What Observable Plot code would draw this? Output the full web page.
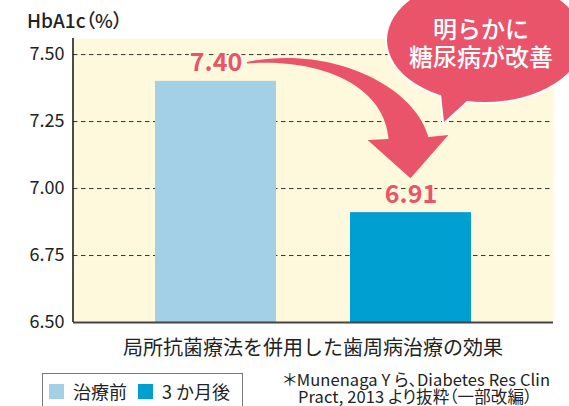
<!DOCTYPE html>
<html>
<head>
<meta charset="utf-8">
<script src="https://cdn.jsdelivr.net/npm/d3@7"></script>
<script src="https://cdn.jsdelivr.net/npm/@observablehq/plot@0.6"></script>
<style>
  html, body { margin: 0; padding: 0; background: #fff; }
  #wrap { position: relative; width: 569px; height: 406px; overflow: hidden;
          font-family: "Noto Sans CJK JP", "Noto Sans", sans-serif; color: #222; }
  #chart { position: absolute; left: 0; top: 0; }
  .abs { position: absolute; white-space: nowrap; }
  #title { left: 27px; top: 6px; font-size: 19px; font-weight: 500; font-feature-settings: "palt"; }
  #xlabel { left: 73px; width: 480px; top: 332px; text-align: center; font-size: 20px; }
  #legend { left: 42px; top: 373px; width: 201px; height: 40px; border: 1.5px solid #777; box-sizing: border-box;
            display: flex; align-items: flex-start; padding: 6px 0 0 6px; font-size: 18px; line-height: 22px; }
  #legend .item { display: flex; align-items: center; margin-right: 11px; }
  #legend .sw { width: 15px; height: 15px; margin-right: 9px; }
  #source { left: 283px; top: 371px; font-size: 16.5px; line-height: 17px; font-feature-settings: "palt"; letter-spacing: 0.1px; }
  #source div + div { padding-left: 15px; }
</style>
</head>
<body>
<div id="wrap">
  <div id="chart"></div>
  <div id="title" class="abs">HbA1c（%）</div>
  <div id="xlabel" class="abs">局所抗菌療法を併用した歯周病治療の効果</div>
  <div id="legend" class="abs"></div>
  <div id="source" class="abs"><div>＊Munenaga Y ら、Diabetes Res Clin</div><div>Pract, 2013 より抜粋（一部改編）</div></div>
</div>
<script>
const categories = ["治療前", "3 か月後"];
const values = [7.40, 6.91];
const barColors = ["#a3cfe7", "#009fd2"];
const yTicks = [6.50, 6.75, 7.00, 7.25, 7.50];
const yMax = 7.56;
const calloutLines = ["明らかに", "糖尿病が改善"];

const accent = "#e9546b";
const bg = "#fef9dc";
const data = categories.map((c, i) => ({cat: c, value: values[i], color: barColors[i]}));
const yMin = yTicks[0];

const plot = Plot.plot({
  width: 569,
  height: 365,
  marginLeft: 73,
  marginRight: 16,
  marginTop: 38,
  marginBottom: 43,
  style: {fontFamily: '"Noto Sans CJK JP", "Noto Sans", sans-serif', fontSize: "18px", color: "#222", background: "transparent"},
  x: {domain: categories, paddingInner: 0.379, paddingOuter: 0.42, axis: null},
  y: {domain: [yMin, yMax], ticks: yTicks, tickFormat: d => d.toFixed(2), tickSize: 0, tickPadding: 9, label: null},
  marks: [
    Plot.frame({fill: bg, stroke: "none"}),
    Plot.ruleY(yTicks.slice(1), {stroke: "#333", strokeWidth: 1, strokeDasharray: "4.5,3.5"}),
    Plot.barY(data, {x: "cat", y1: yMin, y2: "value", fill: "color"}),
    Plot.ruleY([yMin], {stroke: "#444", strokeWidth: 2}),
    Plot.text(data, {x: "cat", y: "value", text: d => d.value.toFixed(2), dy: -10, fill: accent,
      fontSize: 25, fontWeight: "bold", stroke: bg, strokeWidth: 4, lineAnchor: "bottom"})
  ]
});
document.getElementById("chart").appendChild(plot);

const xs = plot.scale("x");
const ys = plot.scale("y");
const bw = xs.bandwidth;
const svg = d3.select(plot);

// left axis line
svg.append("line").attr("x1", 73).attr("x2", 73).attr("y1", ys.apply(yMax)).attr("y2", ys.apply(yMin))
  .attr("stroke", "#111").attr("stroke-width", 1.5);

// curved arrow from first label to second label
const S = {x: xs.apply(categories[0]) + bw / 2 + 31.5, y: ys.apply(values[0]) - 19};
const T = {x: xs.apply(categories[1]) + bw / 2, y: ys.apply(values[1]) - 34};
const kx = (T.x - S.x) / 164, ky = (T.y - S.y) / 116;
const P = (x, y) => `${(S.x + (x - 247) * kx).toFixed(1)},${(S.y + (y - 62) * ky).toFixed(1)}`;
const arrowD = `M${P(247,62)} C${P(330,45)} ${P(415,85)} ${P(429,137)} L${P(449,135)} L${P(411,178)} L${P(368,140)} L${P(389,139)} C${P(385,85)} ${P(320,58)} ${P(247,63.5)} Z`;
svg.append("path").attr("d", arrowD).attr("fill", accent);

// speech bubble
const g = svg.append("g");
const tail = "M441,94 L444,122 L469,99 Z";
g.append("ellipse").attr("cx", 485).attr("cy", 40).attr("rx", 98).attr("ry", 62)
  .attr("fill", "#fff").attr("stroke", "#fff").attr("stroke-width", 4);
g.append("path").attr("d", tail).attr("fill", "#fff").attr("stroke", "#fff").attr("stroke-width", 4).attr("stroke-linejoin", "round");
g.append("ellipse").attr("cx", 485).attr("cy", 40).attr("rx", 98).attr("ry", 62).attr("fill", accent);
g.append("path").attr("d", tail).attr("fill", accent);
calloutLines.forEach((t, i) => {
  g.append("text").attr("x", 481).attr("y", 29 + i * 28).attr("text-anchor", "middle").attr("dy", "0.36em")
    .attr("fill", "#fff").attr("font-size", 24).attr("font-weight", 500).text(t);
});

// legend
const legend = d3.select("#legend");
categories.forEach((c, i) => {
  const it = legend.append("div").attr("class", "item");
  it.append("div").attr("class", "sw").style("background", barColors[i]);
  it.append("span").text(c);
});
</script>
</body>
</html>
